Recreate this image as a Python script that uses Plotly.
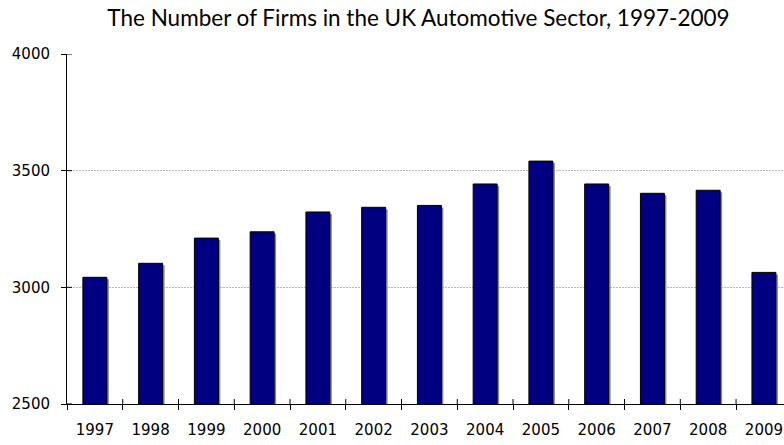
import plotly.graph_objects as go

years = ["1997", "1998", "1999", "2000", "2001", "2002", "2003",
         "2004", "2005", "2006", "2007", "2008", "2009"]
firms = [3043, 3103, 3211, 3238, 3323, 3343, 3351,
         3443, 3541, 3443, 3403, 3416, 3064]
y_ticks = [2500, 3000, 3500, 4000]

title_text = "The Number of Firms in the UK Automotive Sector, 1997-2009"

x_range = [-0.5, 12.36]
y_range = [2500, 4000]
px_x = (x_range[1] - x_range[0]) / 717.0   # data units per pixel
px_y = (y_range[1] - y_range[0]) / 350.0

bw = 0.43
fig = go.Figure()
# shadow underneath
fig.add_trace(go.Bar(
    x=years, y=[v - 2500 - 2 * px_y for v in firms], base=2500,
    width=bw, offset=-bw / 2 + 2 * px_x,
    marker=dict(color="#8a8a8a", line=dict(width=0)),
    hoverinfo="skip", showlegend=False,
))
fig.add_trace(go.Bar(
    x=years, y=[v - 2500 for v in firms], base=2500,
    width=bw, offset=-bw / 2,
    marker=dict(color="#000080", line=dict(color="#000000", width=1)),
    showlegend=False,
))

# inner halves of the crossing tick marks
for t in y_ticks:
    fig.add_shape(type="line", xref="x", yref="y",
                  x0=x_range[0], x1=x_range[0] + 5 * px_x, y0=t, y1=t,
                  line=dict(color="#000000", width=1), layer="above")
for i in range(1, len(years)):
    fig.add_shape(type="line", xref="x", yref="y",
                  x0=i - 0.5, x1=i - 0.5,
                  y0=y_range[0], y1=y_range[0] + 5 * px_y,
                  line=dict(color="#000000", width=1), layer="above")

tickfont = dict(family="DejaVu Sans", size=15, color="#000000")

fig.update_layout(
    width=784, height=445,
    margin=dict(l=67, r=0, t=54, b=41),
    paper_bgcolor="white", plot_bgcolor="white",
    barmode="overlay",
    title=dict(text=title_text, x=418.5 / 784, xanchor="center",
               y=1 - 18 / 445, yanchor="middle",
               font=dict(family="Lato", size=22.5, color="#000000")),
    xaxis=dict(type="category", categoryorder="array", categoryarray=years,
               range=x_range, tickson="boundaries",
               ticks="outside", ticklen=5, tickcolor="#000000", tickwidth=1,
               showline=True, linecolor="#000000", linewidth=1,
               showgrid=False, tickfont=tickfont, ticklabelstandoff=12,
               zeroline=False),
    yaxis=dict(range=y_range, tickvals=y_ticks,
               ticks="outside", ticklen=5, tickcolor="#000000", tickwidth=1,
               showline=True, linecolor="#000000", linewidth=1,
               showgrid=True, gridcolor="#b8b8b8", griddash="2px,1px",
               gridwidth=1, tickfont=tickfont, ticklabelstandoff=8,
               zeroline=False),
)

fig.write_html("out.html")
